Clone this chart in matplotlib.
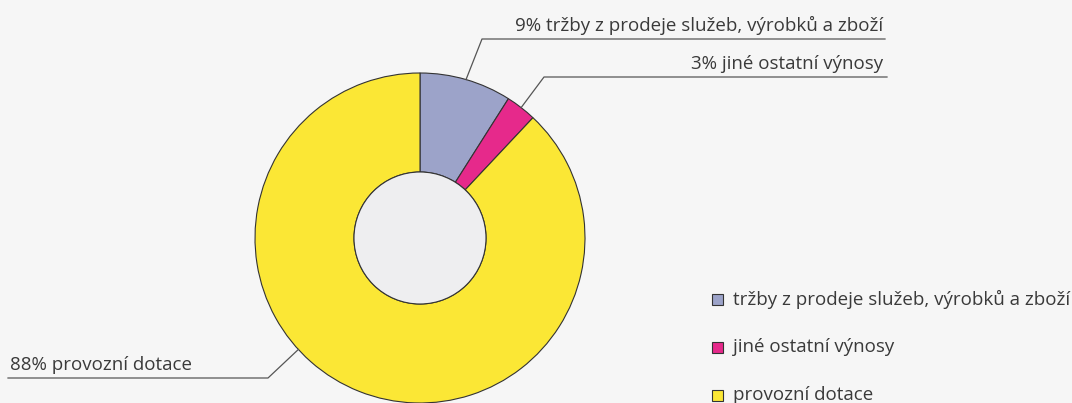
import numpy as np
import matplotlib.pyplot as plt
from matplotlib.patches import Circle, Rectangle

plt.rcParams['font.family'] = ['Open Sans', 'DejaVu Sans']

labels = ['tržby z prodeje služeb, výrobků a zboží', 'jiné ostatní výnosy', 'provozní dotace']
shares = [9, 3, 88]
colors = ['#9ca3c9', '#e6298b', '#fbe735']

H = 403
fig = plt.figure(figsize=(10.72, 4.03), dpi=100, facecolor='#f6f6f6')
ax = fig.add_axes([0, 0, 1, 1])
ax.set_facecolor('#f6f6f6')

cx, cy, R, r_in = 420, H - 238, 165, 66
wedges, _ = ax.pie(shares, colors=colors, startangle=90, counterclock=False,
                   center=(cx, cy), radius=R,
                   wedgeprops=dict(width=R - r_in, edgecolor='#333333', linewidth=0.8))
ax.add_patch(Circle((cx, cy), r_in, facecolor='#eeeef0', edgecolor='#333333', linewidth=0.8, zorder=3))
ax.set_xlim(0, 1072)
ax.set_ylim(0, H)
ax.set_aspect('equal')
ax.axis('off')

# leader lines: (angle on rim or None for wedge middle, elbow point, line end x, text x, ha)
callouts = [(None, (482, 39), 885, 883, 'right'),
            (None, (544, 77), 887, 883, 'right'),
            (222.5, (268, 378), 8, 10, 'left')]
for w, s, lab, (a, elbow, xend, xt, ha) in zip(wedges, shares, labels, callouts):
    a = (w.theta1 + w.theta2) / 2 if a is None else a
    ang = np.deg2rad(a)
    px, py = cx + R * np.cos(ang), cy + R * np.sin(ang)
    ex, ey = elbow[0], H - elbow[1]
    ax.plot([px, ex, xend], [py, ey, ey], color='#555555', lw=0.9, zorder=4)
    ax.text(xt, ey + 8, f'{s}% {lab}', ha=ha, va='baseline', fontsize=13.5, color='#3a3a3a')

# legend
for i, (lab, c) in enumerate(zip(labels, colors)):
    yc = H - (299 + i * 48)
    ax.add_patch(Rectangle((712, yc - 5.5), 11, 11, facecolor=c, edgecolor='#333333', lw=0.8))
    ax.text(733, yc, lab, ha='left', va='center', fontsize=13.5, color='#3a3a3a')

fig.savefig('out.png', dpi=100, facecolor=fig.get_facecolor())
